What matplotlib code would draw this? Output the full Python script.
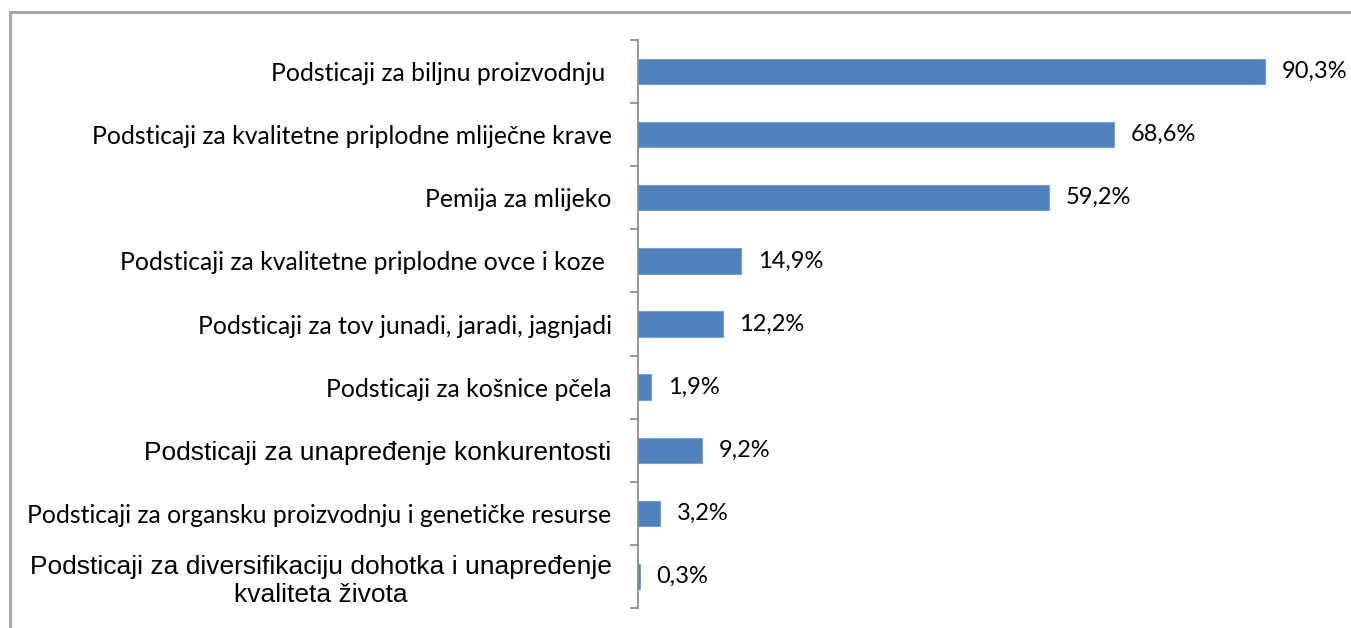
import matplotlib
matplotlib.use("Agg")
import matplotlib.pyplot as plt
from matplotlib.patches import Rectangle

# Chart data (top to bottom)
categories = [
    "Podsticaji za biljnu proizvodnju ",
    "Podsticaji za kvalitetne priplodne mliječne krave",
    "Pemija za mlijeko",
    "Podsticaji za kvalitetne priplodne ovce i koze ",
    "Podsticaji za tov junadi, jaradi, jagnjadi",
    "Podsticaji za košnice pčela",
    "Podsticaji za unapređenje konkurentosti",
    "Podsticaji za organsku proizvodnju i genetičke resurse",
    "Podsticaji za diversifikaciju dohotka i unapređenje\nkvaliteta života",
]
shares = [90.3, 68.6, 59.2, 14.9, 12.2, 1.9, 9.2, 3.2, 0.3]
value_labels = ["90,3%", "68,6%", "59,2%", "14,9%", "12,2%", "1,9%", "9,2%", "3,2%", "0,3%"]
# labels typed in a different font in the original
arial_labels = {6, 8}

W, H = 1351, 628
fig = plt.figure(figsize=(W / 100, H / 100), dpi=100)
ax = fig.add_axes([638 / W, 1 - 608 / H, (1332 - 638) / W, (608 - 40) / H])

pos = list(range(len(categories)))
ax.barh(pos, shares, height=0.4, color="#4f81bd", edgecolor="#7aa0cf", linewidth=0.8)
ax.set_xlim(0, 100)
ax.set_ylim(len(categories) - 0.5, -0.5)

# value labels
for p, v, lab in zip(pos, shares, value_labels):
    ax.annotate(lab, (v, p), xytext=(12, 0), textcoords="offset points",
                va="center", ha="left", fontsize=17, family="Lato")

# category labels
ax.set_yticks(pos)
ax.set_yticklabels(categories)
ax.tick_params(axis="y", which="major", length=0, pad=19)
for i, t in enumerate(ax.get_yticklabels()):
    t.set_multialignment("center")
    t.set_linespacing(1.2)
    if i in arial_labels:
        t.set_family("Liberation Sans")
        t.set_fontsize(19)
    else:
        t.set_family("Lato")
        t.set_fontsize(17.8)

# tick marks between categories
ax.set_yticks([p - 0.5 for p in pos] + [len(pos) - 0.5], minor=True)
ax.tick_params(axis="y", which="minor", length=6, width=1.2, color="#868686", direction="out")

ax.set_xticks([])
for side in ["top", "right", "bottom"]:
    ax.spines[side].set_visible(False)
ax.spines["left"].set_color("#868686")
ax.spines["left"].set_linewidth(1.2)

# chart area border (cut off at right and bottom)
fig.patches.append(Rectangle((9.5 / W, -0.1), 1.2, 1 - 12 / H + 0.1, transform=fig.transFigure,
                             fill=False, edgecolor="#a6a6a6", linewidth=2.2))

fig.savefig("out.png", dpi=100, facecolor="white")
